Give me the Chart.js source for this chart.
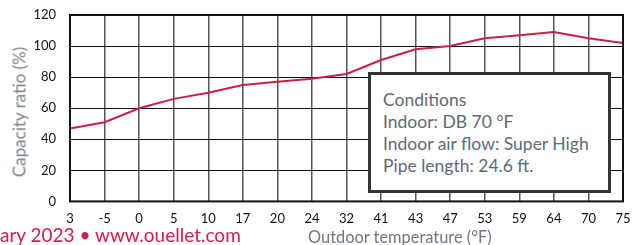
<!DOCTYPE html>
<html>
<head>
<meta charset="utf-8">
<script src="https://cdn.jsdelivr.net/npm/chart.js@4.4.1/dist/chart.umd.min.js"></script>
<style>
    body { margin: 0; background: #fff; }
    #wrap { position: relative; width: 637px; height: 245px; overflow: hidden; }
    #chart { position: absolute; left: 0; top: 0; }
    .txt { position: absolute; font-family: Lato, sans-serif; white-space: nowrap; }
    #y-title { left: 19px; top: 112px; transform: translate(-50%, -50%) rotate(-90deg); color: #75808a; font-size: 17px; }
    #x-title { left: 308px; top: 227px; color: #6d7882; font-size: 16.4px; }
    #footer { left: 0; top: 223px; color: #d3204a; font-size: 19px; }
    #conditions { left: 368px; top: 72px; width: 237px; height: 115px; border: 3px solid #333; background: #fff;
        color: #5f6a75; font-size: 17.5px; line-height: 22px; padding: 0; }
    #conditions div { padding-left: 12px; }
    #conditions div:first-child { margin-top: 14px; }
</style>
</head>
<body>
<div id="wrap">
    <canvas id="chart" width="637" height="245"></canvas>
    <div class="txt" id="y-title">Capacity ratio (%)</div>
    <div class="txt" id="footer">ary 2023 • www.ouellet.com</div>
    <div class="txt" id="x-title">Outdoor temperature (°F)</div>
    <div class="txt" id="conditions">
        <div>Conditions</div>
        <div>Indoor: DB 70 °F</div>
        <div>Indoor air flow: Super High</div>
        <div>Pipe length: 24.6 ft.</div>
    </div>
</div>
<script>
// Data
const temperatures = ['3', '-5', '0', '5', '10', '17', '20', '24', '32', '41', '43', '47', '53', '59', '64', '70', '75'];
const capacityRatio = [47, 51, 60, 66, 70, 75, 77, 79, 82, 91, 98, 100, 105, 107, 109, 105, 102];
const yTicks = [0, 20, 40, 60, 80, 100, 120];

// Thick frame around plot area
const framePlugin = {
    id: 'frame',
    afterDraw(chart) {
        const { ctx, chartArea } = chart;
        ctx.save();
        ctx.strokeStyle = '#111';
        ctx.lineWidth = 2;
        ctx.strokeRect(chartArea.left, chartArea.top, chartArea.right - chartArea.left, chartArea.bottom - chartArea.top);
        ctx.restore();
    }
};

const chartCanvas = document.getElementById('chart');
new Chart(chartCanvas, {
    type: 'line',
    data: {
        labels: temperatures,
        datasets: [{
            data: capacityRatio,
            borderColor: '#cc1f44',
            borderWidth: 2,
            pointRadius: 0,
            tension: 0,
            fill: false
        }]
    },
    options: {
        responsive: false,
        animation: false,
        layout: { padding: { top: 15, right: 14, left: 0, bottom: 16 } },
        plugins: {
            legend: { display: false },
            tooltip: { enabled: false }
        },
        scales: {
            x: {
                offset: false,
                grid: { color: '#555', lineWidth: 1.5, tickLength: 8, tickColor: 'rgba(0,0,0,0)' },
                border: { display: false },
                ticks: {
                    color: '#111',
                    font: { family: 'Lato', size: 13 },
                    padding: 2,
                    maxRotation: 0,
                    autoSkip: false
                }
            },
            y: {
                min: 0,
                max: 120,
                afterFit(scale) { scale.width = 70; },
                afterBuildTicks(scale) { scale.ticks = yTicks.map(v => ({ value: v })); },
                grid: { color: '#111', lineWidth: 1, tickLength: 12, tickColor: 'rgba(0,0,0,0)' },
                border: { display: false },
                ticks: {
                    color: '#111',
                    font: { family: 'Lato', size: 13 },
                    padding: 2
                }
            }
        }
    },
    plugins: [framePlugin]
});
</script>
</body>
</html>
